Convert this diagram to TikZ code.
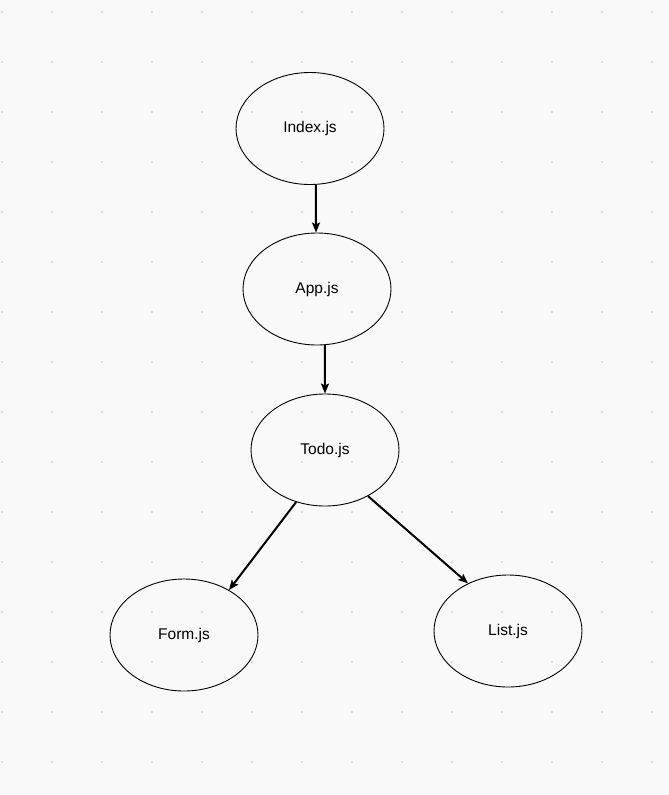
\documentclass[tikz,border=0pt]{standalone}
\usepackage{fontspec}
\setmainfont{Liberation Sans}
\usetikzlibrary{arrows.meta,shapes.geometric}
\definecolor{bg}{HTML}{F9F9F9}
\definecolor{griddot}{HTML}{D9D9D9}
\tikzset{
  comp/.style={ellipse, draw=black, line width=0.9pt, minimum width=148pt, minimum height=112pt, inner sep=0pt, font=\fontsize{15.5}{18}\selectfont},
  link/.style={line width=2pt, -{Stealth[length=10pt,width=8pt,inset=2pt]}},
}
\begin{document}
\begin{tikzpicture}[x=1pt,y=-1pt]
\fill[bg] (0,0) rectangle (669,795);
\useasboundingbox (0,0) rectangle (669,795);
\foreach \gx in {2,52,...,652}{
  \foreach \gy in {12,62,...,762}{
    \fill[griddot] (\gx,\gy) circle (1.4pt);
  }
}
\node[comp] (idx) at (310,128.5) {Index.js};
\node[comp] (app) at (317,289) {App.js};
\node[comp] (todo) at (325,450) {Todo.js};
\node[comp] (form) at (184,635) {Form.js};
\node[comp] (list) at (508,631) {List.js};
\draw[link] (idx.-84) -- (app.91);
\draw[link] (app.-82) -- (todo.90);
\draw[link] (todo.-119) -- (form.45.6);
\draw[link] (todo.-47.4) -- (list.130);
\end{tikzpicture}
\end{document}
